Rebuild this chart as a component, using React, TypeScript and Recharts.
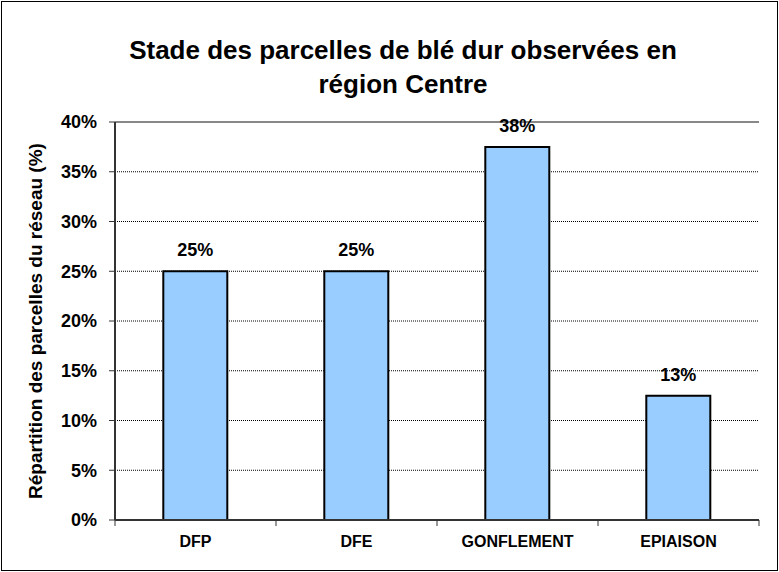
import React from "react";
import {
  Bar,
  BarChart,
  CartesianGrid,
  LabelList,
  ReferenceLine,
  XAxis,
  YAxis,
} from "recharts";

const STAGES = ["DFP", "DFE", "GONFLEMENT", "EPIAISON"];
const SHARES = [25, 25, 37.5, 12.5];
const Y_TICKS = [0, 5, 10, 15, 20, 25, 30, 35, 40];
const TITLE_LINES = ["Stade des parcelles de blé dur observées en", "région Centre"];
const Y_LABEL = "Répartition des parcelles du réseau (%)";

const FONT = '"Liberation Sans", Arial, sans-serif';
const W = 779;
const H = 572;

// Excel-style category tick: mark on the band edges, label in the middle
function StageTick(props: any) {
  const { x, y, payload, index, visibleTicksCount } = props;
  const half = payload?.offset ?? 0;
  const isLast = index === visibleTicksCount - 1;
  return (
    <g>
      <line x1={x - half} y1={y} x2={x - half} y2={y + 6} stroke="#333" strokeWidth={1} />
      {isLast && (
        <line x1={x + half} y1={y} x2={x + half} y2={y + 6} stroke="#333" strokeWidth={1} />
      )}
      <text
        x={x}
        y={y + 27}
        textAnchor="middle"
        fontFamily={FONT}
        fontWeight="bold"
        fontSize={16}
        fill="#000"
      >
        {payload.value}
      </text>
    </g>
  );
}

export default function App() {
  const data = STAGES.map((stage, i) => ({ stage, share: SHARES[i] }));

  return (
    <div style={{ position: "fixed", left: 0, top: 0, width: W, height: H, background: "#fff" }}>
      <div
        style={{
          position: "absolute",
          left: 1,
          top: 1,
          width: W - 2,
          height: H - 2,
          border: "1px solid #000",
          boxSizing: "border-box",
        }}
      />
      <BarChart
        width={W}
        height={H}
        data={data}
        margin={{ top: 122, right: 20, left: 45, bottom: 12 }}
        barCategoryGap="30%"
      >
        <CartesianGrid vertical={false} stroke="#000" strokeDasharray="1 1" />
        <XAxis
          dataKey="stage"
          height={40}
          tickLine={false}
          tickSize={0}
          tickMargin={0}
          axisLine={{ stroke: "#333", strokeWidth: 2 }}
          tick={<StageTick />}
          interval={0}
        />
        <YAxis
          width={70}
          domain={[0, 40]}
          ticks={Y_TICKS}
          interval={0}
          tickFormatter={(v: number) => `${v}%`}
          tickSize={6}
          tickMargin={12}
          tickLine={{ stroke: "#333", strokeWidth: 1 }}
          axisLine={{ stroke: "#333", strokeWidth: 2 }}
          tick={{ fontFamily: FONT, fontWeight: "bold", fontSize: 18, fill: "#000" }}
        />
        <YAxis
          yAxisId="frame"
          orientation="right"
          width={0}
          domain={[0, 40]}
          tick={false}
          tickLine={false}
          axisLine={{ stroke: "#888", strokeWidth: 2 }}
        />
        <ReferenceLine y={40} stroke="#888" strokeWidth={2} />
        <Bar
          dataKey="share"
          fill="#99CCFF"
          stroke="#000"
          strokeWidth={2}
          isAnimationActive={false}
        >
          <LabelList
            dataKey="share"
            position="top"
            offset={15}
            formatter={(v: any) => `${Math.round(Number(v))}%`}
            style={{ fontFamily: FONT, fontWeight: "bold", fontSize: 18, fill: "#000" }}
          />
        </Bar>
      </BarChart>
      <svg
        width={W}
        height={H}
        style={{ position: "absolute", left: 0, top: 0, pointerEvents: "none" }}
      >
        {TITLE_LINES.map((line, i) => (
          <text
            key={i}
            x={403}
            y={59 + i * 34}
            textAnchor="middle"
            fontFamily={FONT}
            fontWeight="bold"
            fontSize={26}
            fill="#000"
          >
            {line}
          </text>
        ))}
        <text
          x={42}
          y={321}
          transform="rotate(-90 42 321)"
          textAnchor="middle"
          fontFamily={FONT}
          fontWeight="bold"
          fontSize={19}
          fill="#000"
        >
          {Y_LABEL}
        </text>
      </svg>
    </div>
  );
}
